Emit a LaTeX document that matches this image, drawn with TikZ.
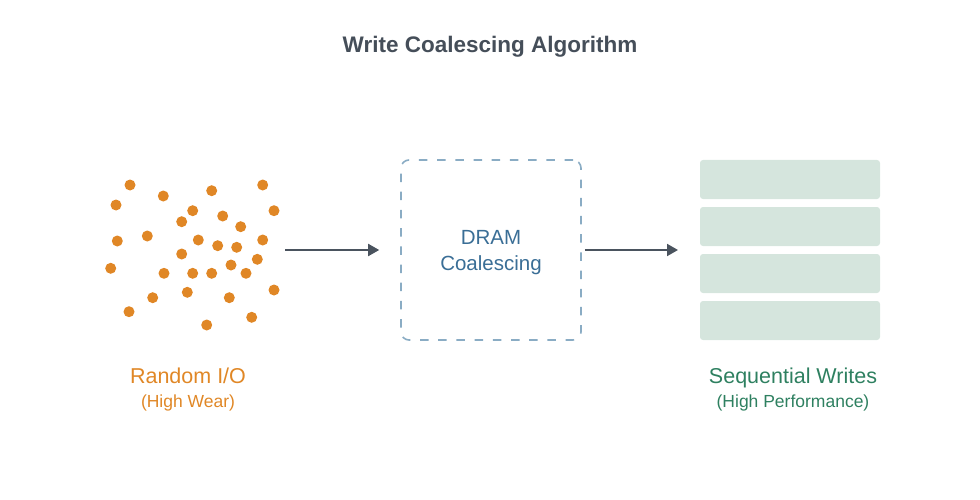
\documentclass[tikz,border=0pt]{standalone}
\usepackage{fontspec}
\setmainfont{Liberation Sans}
\usetikzlibrary{arrows.meta}
\definecolor{dotc}{RGB}{224,135,38}
\definecolor{titlec}{RGB}{69,78,89}
\definecolor{dashc}{RGB}{138,172,196}
\definecolor{dramc}{RGB}{58,110,150}
\definecolor{arrc}{RGB}{74,83,94}
\definecolor{barc}{RGB}{213,229,221}
\definecolor{greenc}{RGB}{46,128,96}
\tikzset{
  dot/.style={circle,fill=dotc,inner sep=0pt,minimum size=11pt},
  bar/.style={fill=barc,rounded corners=3pt,minimum width=180pt,minimum height=39pt,inner sep=0pt},
  flow/.style={draw=arrc,line width=1.9pt,-{Triangle[length=11pt,width=12pt]}},
  lbl/.style={font=\fontsize{21.5}{24}\selectfont,anchor=base},
  sublbl/.style={font=\fontsize{17.5}{20}\selectfont,anchor=base},
}
\begin{document}
\begin{tikzpicture}[x=1pt,y=-1pt]
\useasboundingbox (0,0) rectangle (980,500);
\node[font=\fontsize{22.5}{26}\selectfont\bfseries,text=titlec,anchor=base] (title) at (490,53) {Write Coalescing Algorithm};
% dots
\foreach \x/\y [count=\i] in {130/185,163.3/196,211.7/190.7,262.7/185,116/205,192.7/210.7,222.7/216,274/210.7,181.7/221.7,240.7/226.7,117.3/241,147.3/236,198.3/240,217.7/245.7,236.7/247.3,262.7/240,181.7/254,110.7/268.3,164/273.3,192.7/273.3,211.7/273.3,231/265,246/273.3,257.3/259.3,152.7/297.7,187.3/292.3,229.3/297.7,274/290,129/311.7,206.7/325,251.7/317.3}
  \node[dot] (d\i) at (\x,\y) {};
\coordinate (rs) at (285,250);
% DRAM box
\node[draw=dashc,line width=1.6pt,dash pattern=on 8.5pt off 9.7pt,rounded corners=8pt,minimum width=180pt,minimum height=180pt,inner sep=0pt] (dram) at (491,250) {};
\node[text=dramc,font=\fontsize{20.5}{26}\selectfont,align=center] (dramt) at (491,253) {DRAM\\Coalescing};
% bars
\node[bar] (b1) at (790,179.5) {};
\node[bar] (b2) at (790,226.5) {};
\node[bar] (b3) at (790,273.5) {};
\node[bar] (b4) at (790,320.5) {};
\coordinate (bl) at (700,250);
\draw[flow,shorten >=21pt] (rs) -- (dram.west);
\draw[flow,shorten <=3pt,shorten >=22pt] (dram.east) -- (bl);
% labels
\node[lbl,text=dotc] (rio) at (188,383) {Random I/O};
\node[sublbl,text=dotc] (hw) at (188,407) {(High Wear)};
\node[lbl,text=greenc] (sw) at (793,383) {Sequential Writes};
\node[sublbl,text=greenc] (hp) at (793,407) {(High Performance)};
\end{tikzpicture}
\end{document}
